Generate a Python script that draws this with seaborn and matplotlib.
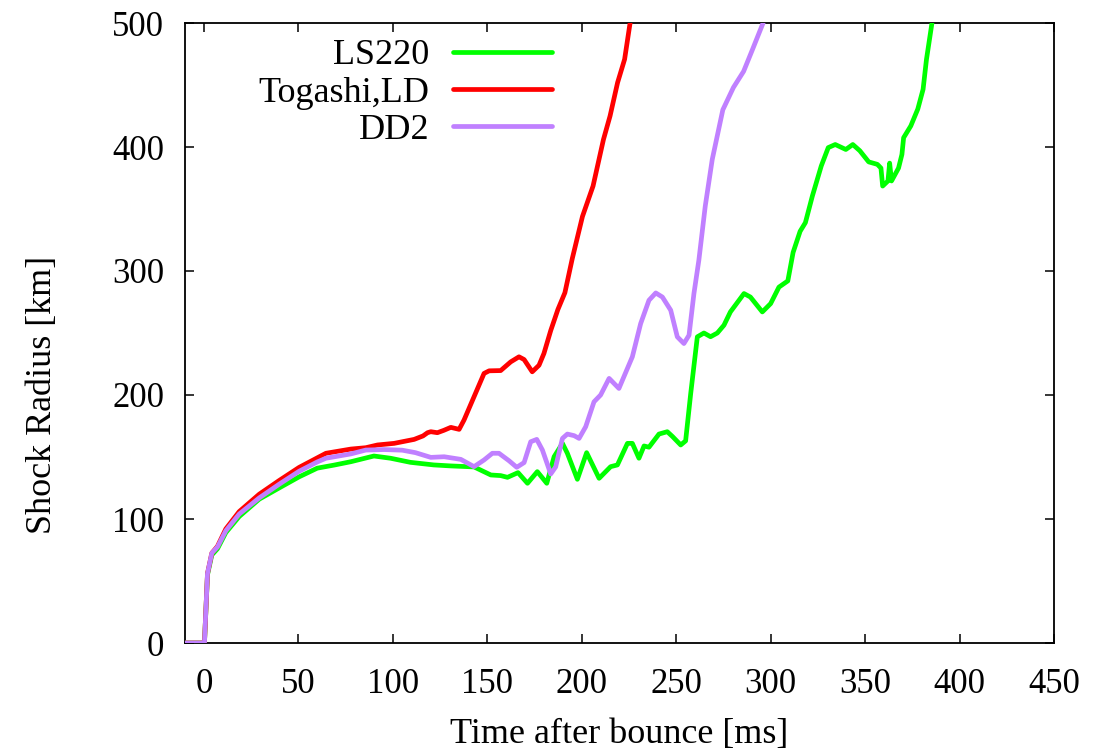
import numpy as np
import pandas as pd
import matplotlib
matplotlib.use("Agg")
import matplotlib.pyplot as plt
import seaborn as sns

# ---------------- data ----------------
series_names = ["LS220", "Togashi,LD", "DD2"]
series_colors = ["#00ff00", "#ff0000", "#c080ff"]

ls220_t = [-10, 0.3, 1.9, 4.2, 7.2, 11.6, 18.7, 29.3, 39.8, 50.4, 60, 69, 77.8, 90, 98.8,
           109.3, 121.7, 130.7, 143, 151.9, 157.1, 160.7, 166.3, 171.3, 176.5, 181.5, 185.4,
           189.8, 192.4, 197.7, 202.6, 209.2, 215.3, 218.9, 224.2, 226.8, 230.3, 233, 235.6,
           240.9, 245.3, 248, 252.4, 255, 257.7, 261.2, 264.7, 268.2, 271.8, 275.3, 278.7,
           285.9, 289.3, 295.6, 300, 304.4, 309.1, 311.9, 315.6, 318.4, 322.1, 326.8, 330.5,
           334.2, 339.8, 343.5, 347.2, 351.9, 356.5, 358.4, 359.3, 362.1, 363, 364, 367.7,
           369.5, 370.4, 374.2, 377.9, 380.7, 382.5, 385.3, 386]
ls220_r = [0, 0, 55, 71, 76, 89, 102, 116, 125, 134, 141, 143.5, 146.2, 150.8, 149,
           145.7, 143.6, 142.8, 142, 135.5, 135, 133.6, 137.4, 128.8, 138.2, 128.8, 150.3,
           161, 153, 132, 153.5, 132.8, 142.2, 143.6, 161, 161, 149, 158.9, 157.9,
           168.5, 170.4, 166.6, 159.7, 163, 201.3, 246.9, 250, 247, 250, 256.3, 267,
           281.8, 279, 267, 273.7, 287, 292, 315, 332, 339, 360.5, 384.7, 399.5,
           402, 398, 402, 397, 388, 386, 383, 368.5, 372.6, 387, 372.6, 383,
           394, 407.5, 417, 430.6, 446.5, 470.7, 499, 506]

togashi_t = [-10, 0.3, 1.9, 4.2, 7.2, 11.6, 18.7, 29.3, 39.8, 50.4, 64.6, 77.8, 85.7, 91.9,
             100.7, 111.3, 116, 118.4, 120.1, 123.6, 127, 130.7, 135.1, 137.7, 143, 148.3,
             151, 157.1, 162.4, 166.8, 169.5, 173.8, 177.4, 180, 183.6, 187.4, 191.1, 195,
             200.4, 206, 211.5, 215, 219, 222.7, 225.5, 226.5]
togashi_r = [0, 0, 56, 72.5, 78, 92, 106, 120, 131, 141.6, 153, 156.4, 157.5, 159.7,
             161, 164.2, 167, 169.6, 170.4, 169.6, 171.5, 173.9, 172.3, 179.8, 198.6, 217.4,
             219.5, 219.7, 226.7, 230.8, 228.6, 218.7, 224, 233.5, 252, 269, 282.5, 310,
             344, 368.5, 406, 425, 452, 470.7, 499, 506]

dd2_t = [-10, 0.3, 1.9, 4.2, 7.2, 11.6, 18.7, 29.3, 39.8, 50.4, 60, 64.6, 77.8, 85.7, 95.4,
         105, 112, 118.4, 120.1, 127.2, 136, 143, 148.3, 152.7, 156.2, 161.5, 165.6, 169.5,
         173, 176.2, 179.2, 183.6, 186.2, 189.8, 192.4, 196, 198.6, 202.1, 206.5, 210,
         214.5, 219.7, 226.8, 231.2, 235.6, 239.2, 242.7, 247.1, 250.6, 254.1, 256.8,
         259.4, 262, 265.4, 269.1, 274.7, 280.3, 285.7, 290.5, 296, 297]
dd2_r = [0, 0, 56, 72.5, 77.5, 90.5, 104, 117, 128, 138.5, 146, 149, 152.5, 155.6, 156,
         155.5, 153.5, 150.5, 149.7, 150.2, 148.1, 142.2, 147.6, 153, 153, 147, 141.7, 145.5,
         162.3, 164.2, 155.6, 136.3, 142, 165, 168.5, 167.2, 165, 174.4, 194.5, 200,
         213.4, 205.3, 230.8, 257.6, 276.4, 282.3, 279, 268.4, 246.9, 241.5, 248.2,
         281.8, 308.6, 352.4, 390, 430, 448, 461, 479, 500, 505]

x_ticks = [0, 50, 100, 150, 200, 250, 300, 350, 400, 450]
y_ticks = [0, 100, 200, 300, 400, 500]
x_label = "Time after bounce [ms]"
y_label = "Shock Radius [km]"

# ---------------- build long-form table ----------------
frames = []
for name, t, r in zip(series_names, [ls220_t, togashi_t, dd2_t], [ls220_r, togashi_r, dd2_r]):
    frames.append(pd.DataFrame({"t": t, "R": r, "model": name}))
df = pd.concat(frames, ignore_index=True)

# ---------------- style ----------------
sns.set_style("ticks")
plt.rcParams["font.family"] = ["Liberation Serif", "DejaVu Serif"]
plt.rcParams["text.color"] = "black"
plt.rcParams["axes.labelcolor"] = "black"
plt.rcParams["xtick.color"] = "black"
plt.rcParams["ytick.color"] = "black"

W, H = 1099, 754
fig = plt.figure(figsize=(W / 100, H / 100), dpi=100)
left, right, top, bottom = 185, 1054, 23, 643
ax = fig.add_axes([left / W, 1 - bottom / H, (right - left) / W, (bottom - top) / H])

sns.lineplot(data=df, x="t", y="R", hue="model", hue_order=series_names,
             palette=dict(zip(series_names, series_colors)),
             estimator=None, sort=False, linewidth=3.4, ax=ax, legend=True)
for ln in ax.lines:
    ln.set_zorder(3)
    ln.set_solid_joinstyle("round")

ax.set_xlim(-10, 450)
ax.set_ylim(0, 500)
ax.set_xticks(x_ticks)
ax.set_yticks(y_ticks)
ax.tick_params(direction="in", length=6.5, width=1.1, top=True, right=True,
               labelsize=25, colors="black")
ax.tick_params(axis="x", pad=18)
ax.tick_params(axis="y", pad=15)
for s in ax.spines.values():
    s.set_linewidth(1.3)
    s.set_color("black")
    s.set_visible(True)

ax.set_xlabel(x_label, fontsize=26, color="black")
ax.set_ylabel(y_label, fontsize=26, color="black")
ax.xaxis.set_label_coords(0.5, -0.121)
ax.yaxis.set_label_coords(-0.145, 0.40)

handles, labels = ax.get_legend_handles_labels()
for h in handles:
    h.set_linewidth(3.4)
leg = ax.legend(handles, labels, loc="upper right", frameon=False,
                markerfirst=False, fontsize=26, handlelength=2.75,
                handletextpad=0.65, labelspacing=0.11, borderpad=0,
                borderaxespad=0,
                bbox_to_anchor=(552 / W, 1 - 39 / H), bbox_transform=fig.transFigure)
for txt in leg.get_texts():
    txt.set_color("black")

fig.savefig("out.png", dpi=100)
